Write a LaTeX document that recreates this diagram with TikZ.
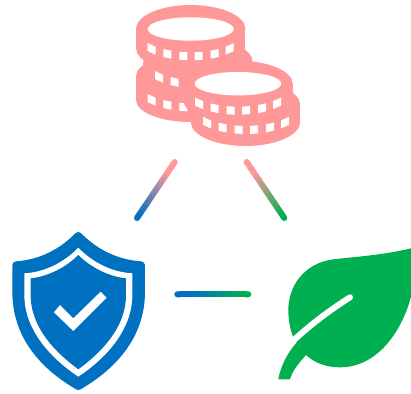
\documentclass[tikz,border=0pt]{standalone}
\usetikzlibrary{calc}
\definecolor{coinpink}{RGB}{255,153,153}
\definecolor{shieldblue}{RGB}{0,112,192}
\definecolor{leafgreen}{RGB}{0,176,80}
% one coin: top ellipse, side, bottom ellipse
\newcommand{\coinbody}[4]{
    \fill[coinpink] (#1,#2) ellipse [x radius=54.7, y radius=#4];
    \fill[coinpink] (#1,#3) ellipse [x radius=54.7, y radius=#4];
    \fill[coinpink] (#1-54.7,#2) rectangle (#1+54.7,#3);
}
% row of small windows on the rim of a coin
\newcommand{\coinrow}[2]{
    \foreach \d in {-39,-23.3,-7.3,8,24,39} {
        \pgfmathsetmacro{\sl}{23.3*sqrt(1-((\d-4)/54)^2)}
        \pgfmathsetmacro{\sr}{23.3*sqrt(1-((\d+4)/54)^2)}
        \fill[white] (#1+\d-4,#2+\sl) -- (#1+\d+4,#2+\sr)
            -- (#1+\d+4,#2+\sr+8) -- (#1+\d-4,#2+\sl+8) -- cycle;
    }
}
% connector with a colour running from one end to the other
\newcommand{\gradline}[4]{
    \foreach \p in {0,4,...,96} {
        \pgfmathsetmacro{\q}{(\p+4)/100}
        \pgfmathsetmacro{\r}{\p/100}
        \pgfmathtruncatemacro{\m}{max(0,(\p-20)*1.3)}
        \draw[line width=6, line cap=round, #4!\m!#3] ($(#1)!\r!(#2)$) -- ($(#1)!\q!(#2)$);
    }
}
\begin{document}
\begin{tikzpicture}[x=1pt, y=-1pt]
    \useasboundingbox (0,0) rectangle (411,393);

    % coins, back stack
    \coinbody{190.7}{76}{100}{22}
    \coinbody{198}{62}{85}{24}
    \coinbody{190.7}{29}{48}{24}
    \fill[white] (190.7,29) ellipse [x radius=43, y radius=11.7];
    \coinrow{190.7}{29}
    \coinrow{198}{57}
    \coinrow{190.7}{80}

    % coins, front stack
    \coinbody{245.5}{105}{122}{24}
    \coinbody{238}{83.7}{100}{23}
    \fill[white] (238,83.7) ellipse [x radius=43.3, y radius=11.7];
    \coinrow{238}{83.4}
    \coinrow{246}{102.7}

    % shield
    \begin{scope}[shift={(0,225)}, x=0.3333pt, y=-0.3333pt]
        \filldraw[shieldblue, line width=8, line join=round]
            (235,33) .. controls (190,80) and (125,116) .. (49,121)
            -- (49,200) .. controls (49,335) and (135,425) .. (235,483)
            .. controls (335,425) and (423,335) .. (423,200)
            -- (423,121) .. controls (345,116) and (280,80) .. (235,33) -- cycle;
        \fill[white]
            (235,68) .. controls (190,115) and (130,142) .. (73,145)
            -- (73,210) .. controls (73,320) and (160,405) .. (235,455)
            .. controls (310,405) and (397,320) .. (397,210)
            -- (397,145) .. controls (340,142) and (280,115) .. (235,68) -- cycle;
        \fill[shieldblue]
            (235,90) .. controls (195,130) and (140,155) .. (92,160)
            -- (92,210) .. controls (92,310) and (170,385) .. (235,433)
            .. controls (300,385) and (378,310) .. (378,210)
            -- (378,160) .. controls (330,155) and (275,130) .. (235,90) -- cycle;
        \fill[white] (162,262) -- (180,240) -- (220,280) -- (302,200)
            -- (320,218) -- (220,318) -- cycle;
    \end{scope}

    % leaf
    \begin{scope}[shift={(270,240)}, x=0.3333pt, y=-0.3333pt]
        \fill[leafgreen]
            (423,25) .. controls (340,45) and (260,50) .. (190,58)
            .. controls (100,70) and (55,140) .. (55,210)
            .. controls (55,245) and (62,275) .. (72,298)
            -- (80,308) .. controls (50,340) and (30,385) .. (25,418)
            -- (60,418) .. controls (68,390) and (90,365) .. (108,345)
            .. controls (135,370) and (170,382) .. (210,382)
            .. controls (330,382) and (400,260) .. (423,170) -- cycle;
        \draw[white, line width=6, line cap=round]
            (240,172) .. controls (180,210) and (120,255) .. (70,302);
    \end{scope}

    % connectors
    \coordinate (coinleft) at (174.7,162);
    \coordinate (shieldtop) at (137,218);
    \coordinate (coinright) at (246.7,162);
    \coordinate (leaftop) at (284.3,218);
    \coordinate (shieldright) at (177.3,294.3);
    \coordinate (leafleft) at (248.3,294.3);
    \gradline{coinleft}{shieldtop}{coinpink}{shieldblue}
    \gradline{coinright}{leaftop}{coinpink}{leafgreen}
    \gradline{shieldright}{leafleft}{shieldblue}{leafgreen}
\end{tikzpicture}
\end{document}
